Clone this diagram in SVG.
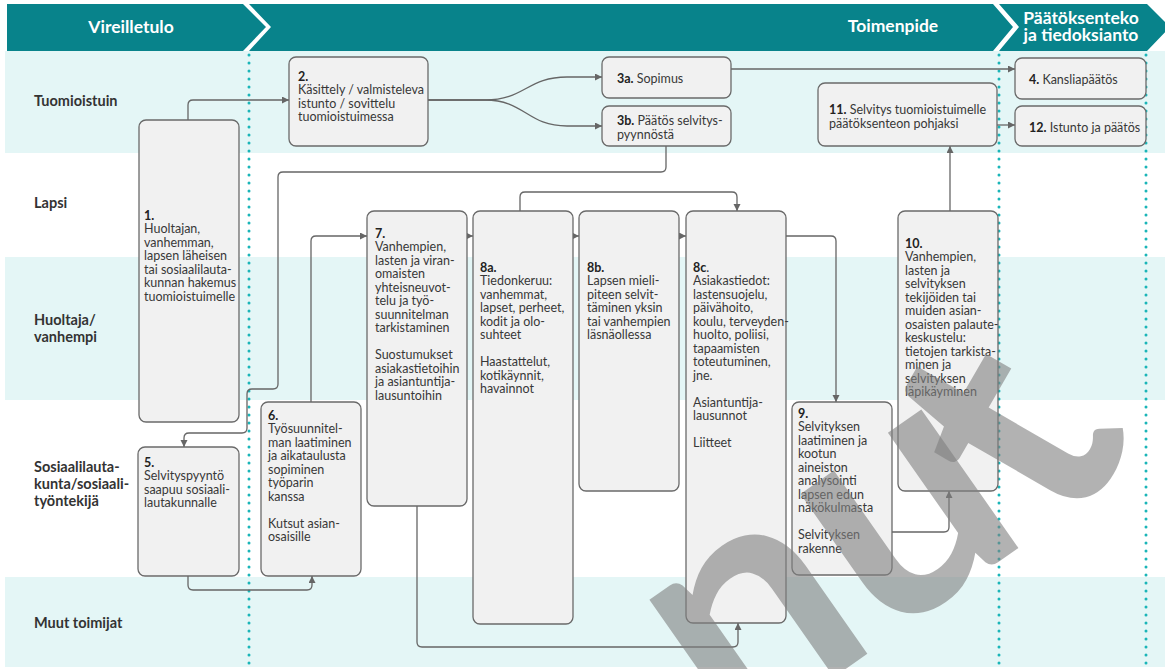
<svg xmlns="http://www.w3.org/2000/svg" width="1165" height="669" viewBox="0 0 1165 669">
<defs>
<style>
.hdr{fill:#08838b}
.hdrt{font-family:Lato,"Liberation Sans",sans-serif;font-weight:bold;font-size:17.5px;fill:#fff;text-anchor:middle}
.lane{fill:#e4f6f6}
.lbl{font-family:Lato,"Liberation Sans",sans-serif;font-weight:bold;font-size:14.5px;fill:#333}
.node rect{fill:#f1f1f1;stroke:#6a6a6a;stroke-width:1.3}
.nt{font-family:Lato,"Liberation Sans",sans-serif;font-size:12.5px;fill:#383838}
.b{font-weight:bold;fill:#222}
.dot{stroke:#1ab5b8;stroke-width:3;stroke-dasharray:0 8;stroke-linecap:round;fill:none}
.con{fill:none;stroke:#666;stroke-width:1.3}
.wm{font-family:Lato,"Liberation Sans",sans-serif;font-weight:bold;font-size:330px;fill:#808080;opacity:0.6}
</style>
<marker id="ah" markerUnits="userSpaceOnUse" markerWidth="8" markerHeight="8" refX="7" refY="3.5" orient="auto">
<path d="M0,0 L7,3.5 L0,7 z" fill="#666"/>
</marker>
</defs>
<rect x="0" y="0" width="1165" height="669" fill="#fff"/>
<g id="lanes">
<rect class="lane" x="5" y="51" width="1160" height="102"/>
<rect class="lane" x="5" y="257" width="1160" height="143"/>
<rect class="lane" x="5" y="577" width="1160" height="90"/>
<text class="lbl" x="34" y="106">Tuomioistuin</text>
<text class="lbl" x="34" y="208">Lapsi</text>
<text class="lbl" x="34" y="325">Huoltaja/</text>
<text class="lbl" x="34" y="342">vanhempi</text>
<text class="lbl" x="34" y="472">Sosiaalilauta-</text>
<text class="lbl" x="34" y="489">kunta/sosiaali-</text>
<text class="lbl" x="34" y="506">työntekijä</text>
<text class="lbl" x="34" y="628">Muut toimijat</text>
</g>
<g id="header">
<polygon class="hdr" points="7,4 243,4 266,27 243,51 7,51"/>
<polygon class="hdr" points="249,4 993,4 1013,27 993,51 249,51 271,27"/>
<polygon class="hdr" points="999,4 1147,4 1170,27 1147,51 999,51 1019,27"/>
<text class="hdrt" x="131" y="33">Vireilletulo</text>
<text class="hdrt" x="893" y="32">Toimenpide</text>
<text class="hdrt" x="1081" y="24">Päätöksenteko</text>
<text class="hdrt" x="1081" y="41">ja tiedoksianto</text>
</g>
<g id="dividers">
<line class="dot" x1="249" y1="55" x2="249" y2="669"/>
<line class="dot" x1="999" y1="55" x2="999" y2="669"/>
<line class="dot" x1="1146" y1="55" x2="1146" y2="669"/>
</g>
<g id="connectors">
<path class="con" marker-end="url(#ah)" d="M188,120 V105 Q188,100 193,100 H289"/>
<path class="con" marker-end="url(#ah)" d="M428,100 H485 C525,100 527,77 567,77 H602"/>
<path class="con" marker-end="url(#ah)" d="M428,100 H485 C525,100 527,126 567,126 H602"/>
<path class="con" marker-end="url(#ah)" d="M731,69 H1015"/>
<path class="con" marker-end="url(#ah)" d="M666,146 V167 Q666,172 661,172 H283 Q278,172 278,177 V384 Q278,389 273,389 H252 Q247,389 247,394 V428 Q247,433 242,433 H189 Q184,433 184,438 V447"/>
<path class="con" marker-end="url(#ah)" d="M188,576 V585 Q188,590 193,590 H307 Q312,590 312,585 V576"/>
<path class="con" marker-end="url(#ah)" d="M311,402 V241 Q311,236 316,236 H367"/>
<path class="con" marker-end="url(#ah)" d="M457,236 H473"/>
<path class="con" marker-end="url(#ah)" d="M563,236 H579"/>
<path class="con" marker-end="url(#ah)" d="M669,236 H686"/>
<path class="con" marker-end="url(#ah)" d="M520,211 V197 Q520,192 525,192 H732 Q737,192 737,197 V211"/>
<path class="con" marker-end="url(#ah)" d="M786,236 H831 Q836,236 836,241 V402"/>
<path class="con" marker-end="url(#ah)" d="M892,532 H944 Q949,532 949,527 V491"/>
<path class="con" marker-end="url(#ah)" d="M950,211 V146"/>
<path class="con" marker-end="url(#ah)" d="M997,125 H1015"/>
<path class="con" marker-end="url(#ah)" d="M417,506 V642 Q417,647 422,647 H733 Q738,647 738,642 V623"/>
</g>
<g id="n1" class="node"><rect x="139" y="120" width="100" height="302" rx="7"/>
<text class="nt" x="144" y="219.5"><tspan class="b">1.</tspan><tspan x="144" dy="13.5">Huoltajan,</tspan><tspan x="144" dy="13.5">vanhemman,</tspan><tspan x="144" dy="13.5">lapsen läheisen</tspan><tspan x="144" dy="13.5">tai sosiaalilauta-</tspan><tspan x="144" dy="13.5">kunnan hakemus</tspan><tspan x="144" dy="13.5">tuomioistuimelle</tspan></text></g>
<g id="n2" class="node"><rect x="289" y="57" width="139" height="89" rx="7"/>
<text class="nt" x="298" y="80.5"><tspan class="b">2.</tspan><tspan x="298" dy="13.5">Käsittely / valmisteleva</tspan><tspan x="298" dy="13.5">istunto / sovittelu</tspan><tspan x="298" dy="13.5">tuomioistuimessa</tspan></text></g>
<g id="n3a" class="node"><rect x="602" y="57" width="129" height="41" rx="7"/>
<text class="nt" x="617" y="82.5"><tspan class="b">3a.</tspan> Sopimus</text></g>
<g id="n3b" class="node"><rect x="602" y="106" width="129" height="40" rx="7"/>
<text class="nt" x="617" y="125"><tspan class="b">3b.</tspan> Päätös selvitys-<tspan x="617" dy="13.5">pyynnöstä</tspan></text></g>
<g id="n4" class="node"><rect x="1015" y="58" width="131" height="41" rx="7"/>
<text class="nt" x="1029" y="83.5"><tspan class="b">4.</tspan> Kansliapäätös</text></g>
<g id="n12" class="node"><rect x="1015" y="106" width="131" height="40" rx="7"/>
<text class="nt" x="1029" y="131.5"><tspan class="b">12.</tspan> Istunto ja päätös</text></g>
<g id="n11" class="node"><rect x="818" y="83" width="179" height="63" rx="7"/>
<text class="nt" x="829" y="114"><tspan class="b">11.</tspan> Selvitys tuomioistuimelle<tspan x="829" dy="13.5">päätöksenteon pohjaksi</tspan></text></g>
<g id="n5" class="node"><rect x="138" y="447" width="101" height="129" rx="7"/>
<text class="nt" x="144" y="466.5"><tspan class="b">5.</tspan><tspan x="144" dy="13.5">Selvityspyyntö</tspan><tspan x="144" dy="13.5">saapuu sosiaali-</tspan><tspan x="144" dy="13.5">lautakunnalle</tspan></text></g>
<g id="n6" class="node"><rect x="261" y="402" width="100" height="174" rx="7"/>
<text class="nt" x="268" y="419.5"><tspan class="b">6.</tspan><tspan x="268" dy="13.5">Työsuunnitel-</tspan><tspan x="268" dy="13.5">man laatiminen</tspan><tspan x="268" dy="13.5">ja aikataulusta</tspan><tspan x="268" dy="13.5">sopiminen</tspan><tspan x="268" dy="13.5">työparin</tspan><tspan x="268" dy="13.5">kanssa</tspan><tspan x="268" dy="27">Kutsut asian-</tspan><tspan x="268" dy="13.5">osaisille</tspan></text></g>
<g id="n7" class="node"><rect x="367" y="211" width="100" height="295" rx="7"/>
<text class="nt" x="375" y="237.5"><tspan class="b">7.</tspan><tspan x="375" dy="13.5">Vanhempien,</tspan><tspan x="375" dy="13.5">lasten ja viran-</tspan><tspan x="375" dy="13.5">omaisten</tspan><tspan x="375" dy="13.5">yhteisneuvot-</tspan><tspan x="375" dy="13.5">telu ja työ-</tspan><tspan x="375" dy="13.5">suunnitelman</tspan><tspan x="375" dy="13.5">tarkistaminen</tspan><tspan x="375" dy="27">Suostumukset</tspan><tspan x="375" dy="13.5">asiakastietoihin</tspan><tspan x="375" dy="13.5">ja asiantuntija-</tspan><tspan x="375" dy="13.5">lausuntoihin</tspan></text></g>
<g id="n8a" class="node"><rect x="473" y="211" width="100" height="413" rx="7"/>
<text class="nt" x="480" y="271.5"><tspan class="b">8a.</tspan><tspan x="480" dy="13.5">Tiedonkeruu:</tspan><tspan x="480" dy="13.5">vanhemmat,</tspan><tspan x="480" dy="13.5">lapset, perheet,</tspan><tspan x="480" dy="13.5">kodit ja olo-</tspan><tspan x="480" dy="13.5">suhteet</tspan><tspan x="480" dy="27">Haastattelut,</tspan><tspan x="480" dy="13.5">kotikäynnit,</tspan><tspan x="480" dy="13.5">havainnot</tspan></text></g>
<g id="n8b" class="node"><rect x="579" y="211" width="100" height="280" rx="7"/>
<text class="nt" x="587" y="271.5"><tspan class="b">8b.</tspan><tspan x="587" dy="13.5">Lapsen mieli-</tspan><tspan x="587" dy="13.5">piteen selvit-</tspan><tspan x="587" dy="13.5">täminen yksin</tspan><tspan x="587" dy="13.5">tai vanhempien</tspan><tspan x="587" dy="13.5">läsnäollessa</tspan></text></g>
<g id="n8c" class="node"><rect x="686" y="211" width="100" height="412" rx="7"/>
<text class="nt" x="693" y="271.5"><tspan class="b">8c</tspan>.<tspan x="693" dy="13.5">Asiakastiedot:</tspan><tspan x="693" dy="13.5">lastensuojelu,</tspan><tspan x="693" dy="13.5">päivähoito,</tspan><tspan x="693" dy="13.5">koulu, terveyden-</tspan><tspan x="693" dy="13.5">huolto, poliisi,</tspan><tspan x="693" dy="13.5">tapaamisten</tspan><tspan x="693" dy="13.5">toteutuminen,</tspan><tspan x="693" dy="13.5">jne.</tspan><tspan x="693" dy="27">Asiantuntija-</tspan><tspan x="693" dy="13.5">lausunnot</tspan><tspan x="693" dy="27">Liitteet</tspan></text></g>
<g id="n9" class="node"><rect x="792" y="402" width="100" height="173" rx="7"/>
<text class="nt" x="798" y="417.5"><tspan class="b">9.</tspan><tspan x="798" dy="13.5">Selvityksen</tspan><tspan x="798" dy="13.5">laatiminen ja</tspan><tspan x="798" dy="13.5">kootun</tspan><tspan x="798" dy="13.5">aineiston</tspan><tspan x="798" dy="13.5">analysointi</tspan><tspan x="798" dy="13.5">lapsen edun</tspan><tspan x="798" dy="13.5">näkökulmasta</tspan><tspan x="798" dy="27">Selvityksen</tspan><tspan x="798" dy="13.5">rakenne</tspan></text></g>
<g id="n10" class="node"><rect x="898" y="211" width="100" height="280" rx="7"/>
<text class="nt" x="905" y="247.5"><tspan class="b">10.</tspan><tspan x="905" dy="13.5">Vanhempien,</tspan><tspan x="905" dy="13.5">lasten ja</tspan><tspan x="905" dy="13.5">selvityksen</tspan><tspan x="905" dy="13.5">tekijöiden tai</tspan><tspan x="905" dy="13.5">muiden asian-</tspan><tspan x="905" dy="13.5">osaisten palaute-</tspan><tspan x="905" dy="13.5">keskustelu:</tspan><tspan x="905" dy="13.5">tietojen tarkista-</tspan><tspan x="905" dy="13.5">minen ja</tspan><tspan x="905" dy="13.5">selvityksen</tspan><tspan x="905" dy="13.5">läpikäyminen</tspan></text></g>
<g id="watermark">
<text class="wm" x="0" y="0" transform="translate(730,750) rotate(-35)">nu</text>
<text class="wm" x="0" y="0" transform="translate(1073,539) rotate(-60)">t</text>
</g>
</svg>
